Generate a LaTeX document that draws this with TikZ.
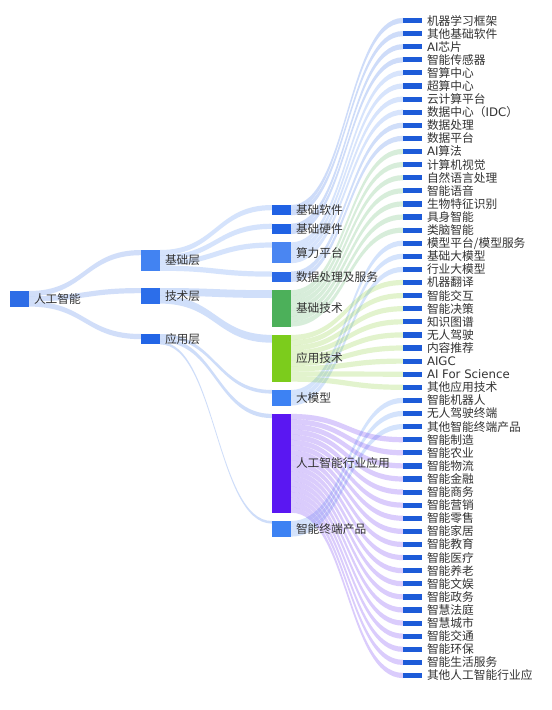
\documentclass[tikz,border=0pt]{standalone}
\usepackage{fontspec}
\setmainfont{Noto Sans CJK SC}
\newfontfamily\latinfont{DejaVu Sans}
\newcommand\LA[1]{{\latinfont #1}}
\usetikzlibrary{calc}
\pgfdeclarelayer{bg}
\pgfsetlayers{bg,main}
\definecolor{cLeaf}{HTML}{1D5BD8}
\definecolor{cRoot}{HTML}{2E6DE6}
\definecolor{cJc}{HTML}{4283F2}
\definecolor{cJs}{HTML}{2C6EEA}
\definecolor{cYy}{HTML}{2265E6}
\definecolor{cRj}{HTML}{2062E4}
\definecolor{cSl}{HTML}{4A86F2}
\definecolor{cSj}{HTML}{2A69E6}
\definecolor{cJcjs}{HTML}{4CB05A}
\definecolor{cYyjs}{HTML}{7CCC1C}
\definecolor{cDmx}{HTML}{3D82F3}
\definecolor{cHy}{HTML}{5A17F2}
\definecolor{cTxt}{HTML}{333333}
\tikzset{
  box/.style={rectangle, inner sep=0pt, outer sep=0pt, draw=none, anchor=north west, minimum width=14.25pt},
  lbl/.style={inner sep=0pt, outer sep=0pt, anchor=west, text=cTxt, font=\fontsize{8.8}{10}\selectfont},
}
% node: name, x, top, height(px), colour, label
\newcommand\mknode[6]{%
  \node[box, fill=#5, minimum height=#4*0.75pt] (#1) at (#2,{#3}) {};
  \node[lbl] (#1-t) at ([xshift=3.75pt]#1.east) {#6};
}
% link: source, source offset, target, target offset, width (px), colour
\newcommand\lnk[6]{%
  \pgfmathsetmacro\lnkSa{#2}%
  \pgfmathsetmacro\lnkSb{#2+#5}%
  \pgfmathsetmacro\lnkTa{#4}%
  \pgfmathsetmacro\lnkTb{#4+#5}%
  \coordinate (a1) at ($(#1.north east)+(0,\lnkSa)$);
  \coordinate (a2) at ($(#1.north east)+(0,\lnkSb)$);
  \coordinate (b1) at ($(#3.north west)+(0,\lnkTa)$);
  \coordinate (b2) at ($(#3.north west)+(0,\lnkTb)$);
  \coordinate (mm) at ($(a1)!0.5!(b1)$);
  \fill[#6, opacity=0.22] (a1) .. controls (mm |- a1) and (mm |- b1) .. (b1)
     -- (b2) .. controls (mm |- b2) and (mm |- a2) .. (a2) -- cycle;
}
\begin{document}
\begin{tikzpicture}[x=0.75pt, y=-0.75pt]
\useasboundingbox (0,0) rectangle (551,710);
\begin{pgfonlayer}{bg}
\fill[white] (0,0) rectangle (551,710);
\end{pgfonlayer}
% column 1
\mknode{root}{10}{291}{15.6}{cRoot}{人工智能}
% column 2
\mknode{L1}{141}{250}{20.8}{cJc}{基础层}
\mknode{L2}{141}{288}{15.6}{cJs}{技术层}
\mknode{L3}{141}{334}{10.4}{cYy}{应用层}
% column 3
\mknode{m1}{272}{205.0}{10.4}{cRj}{基础软件}
\mknode{m2}{272}{223.7}{10.4}{cRj}{基础硬件}
\mknode{m3}{272}{242.4}{20.8}{cSl}{算力平台}
\mknode{m4}{272}{271.5}{10.4}{cSj}{数据处理及服务}
\mknode{m5}{272}{290.2}{36.4}{cJcjs}{基础技术}
\mknode{m6}{272}{334.9}{46.8}{cYyjs}{应用技术}
\mknode{m7}{272}{390.0}{15.6}{cDmx}{大模型}
\mknode{m8}{272}{413.9}{98.8}{cHy}{人工智能行业应用}
\mknode{m9}{272}{521.0}{15.6}{cDmx}{智能终端产品}
% column 4 (leaves)
\foreach \nm [count=\i from 0] in {机器学习框架,其他基础软件,\LA{AI}芯片,智能传感器,智算中心,超算中心,云计算平台,数据中心（\LA{IDC}）,数据处理,数据平台,\LA{AI}算法,计算机视觉,自然语言处理,智能语音,生物特征识别,具身智能,类脑智能,模型平台/模型服务,基础大模型,行业大模型,机器翻译,智能交互,智能决策,知识图谱,无人驾驶,内容推荐,\LA{AIGC},\LA{AI For Science},其他应用技术,智能机器人,无人驾驶终端,其他智能终端产品,智能制造,智能农业,智能物流,智能金融,智能商务,智能营销,智能零售,智能家居,智能教育,智能医疗,智能养老,智能文娱,智能政务,智慧法庭,智慧城市,智能交通,智能环保,智能生活服务,其他人工智能行业应}{
  \pgfmathsetmacro\leafy{17.9+13.1*\i}
  \mknode{leaf\i}{403}{\leafy}{5.2}{cLeaf}{\nm}
}
% links
\begin{pgfonlayer}{bg}
\lnk{root}{0}{L1}{0}{5.2}{cRoot}
\lnk{root}{5.2}{L2}{0}{5.2}{cRoot}
\lnk{root}{10.4}{L3}{0}{5.2}{cRoot}
\lnk{L1}{0}{m1}{0}{5.2}{cJc}
\lnk{L1}{5.2}{m2}{0}{5.2}{cJc}
\lnk{L1}{10.4}{m3}{0}{5.2}{cJc}
\lnk{L1}{15.6}{m4}{0}{5.2}{cJc}
\lnk{L2}{0}{m5}{0}{7.8}{cJs}
\lnk{L2}{7.8}{m6}{0}{7.8}{cJs}
\lnk{L3}{0}{m7}{0}{3.6}{cYy}
\lnk{L3}{3.6}{m8}{0}{4.2}{cYy}
\lnk{L3}{7.8}{m9}{0}{2.6}{cYy}
\foreach \src/\first/\n/\col in {m1/0/2/cRj, m2/2/2/cRj, m3/4/4/cSl, m4/8/2/cSj, m5/10/7/cJcjs, m7/17/3/cDmx, m6/20/9/cYyjs, m9/29/3/cDmx, m8/32/19/cHy}{
  \foreach \k in {1,...,\n}{
    \pgfmathtruncatemacro\j{\first+\k-1}
    \pgfmathsetmacro\off{(\k-1)*5.2}
    \lnk{\src}{\off}{leaf\j}{0}{5.2}{\col}
  }
}
\end{pgfonlayer}
\end{tikzpicture}
\end{document}
